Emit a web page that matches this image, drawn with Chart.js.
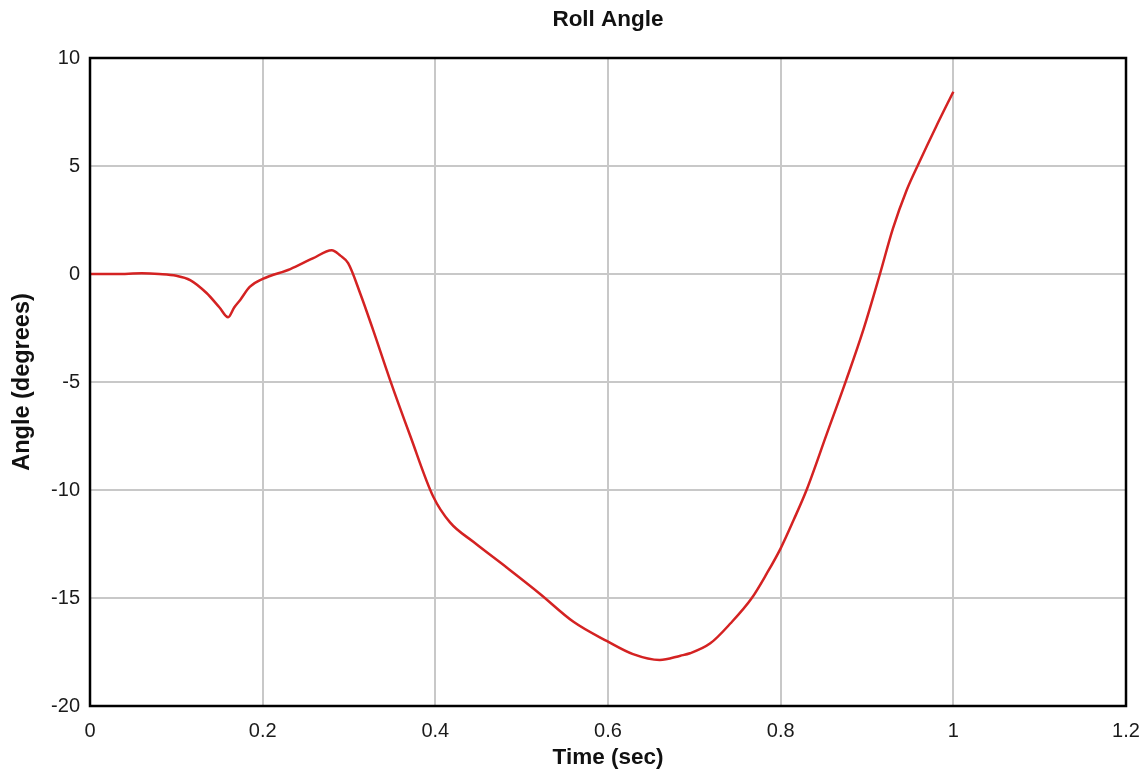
<!DOCTYPE html>
<html>
<head>
<meta charset="utf-8">
<script src="https://cdn.jsdelivr.net/npm/chart.js@4"></script>
<style>
  html, body { margin: 0; padding: 0; background: #ffffff; }
  #wrap { width: 1147px; height: 776px; }
</style>
</head>
<body>
<div id="wrap"><canvas id="c" width="1147" height="776"></canvas></div>
<script>
const chartTitle = 'Roll Angle';
const xTitle = 'Time (sec)';
const yTitle = 'Angle (degrees)';
const seriesName = 'Roll Angle';

const timeSec = [0, 0.03, 0.06, 0.08, 0.1, 0.116, 0.135, 0.15, 0.16, 0.167, 0.174, 0.185, 0.2, 0.232, 0.258, 0.28, 0.29, 0.299, 0.313, 0.328, 0.3475, 0.371, 0.3975, 0.417, 0.444, 0.483, 0.521, 0.56, 0.599, 0.629, 0.66, 0.684, 0.695, 0.7185, 0.742, 0.7666, 0.784, 0.8, 0.815, 0.83, 0.853, 0.876, 0.896, 0.915, 0.93, 0.946, 0.96, 0.98, 1.0];
const rollDeg = [0, 0, 0.03, 0, -0.08, -0.28, -0.88, -1.55, -2.0, -1.55, -1.2, -0.6, -0.23, 0.23, 0.72, 1.1, 0.85, 0.5, -0.9, -2.6, -4.9, -7.5, -10.3, -11.5, -12.4, -13.6, -14.8, -16.1, -17.0, -17.6, -17.87, -17.67, -17.56, -17.1, -16.17, -15.0, -13.86, -12.7, -11.39, -10.0, -7.45, -4.9, -2.55, 0, 2.1, 3.89, 5.13, 6.82, 8.44];

const xTickValues = [0, 0.2, 0.4, 0.6, 0.8, 1, 1.2];
const yTickValues = [-20, -15, -10, -5, 0, 5, 10];

const points = timeSec.map((t, i) => ({ x: t, y: rollDeg[i] }));

const framePlugin = {
  id: 'frame',
  afterDatasetsDraw(chart) {
    const a = chart.chartArea;
    const ctx = chart.ctx;
    ctx.save();
    ctx.strokeStyle = '#000000';
    ctx.lineWidth = 2.5;
    ctx.strokeRect(a.left, a.top, a.right - a.left, a.bottom - a.top);
    ctx.restore();
  }
};

const tickFont = { family: "'Liberation Sans', Arial, sans-serif", size: 20 };
const titleFont = { family: "'Liberation Sans', Arial, sans-serif", size: 22.5, weight: 'bold' };

new Chart(document.getElementById('c'), {
  type: 'scatter',
  data: {
    datasets: [{
      label: seriesName,
      data: points,
      showLine: true,
      borderColor: '#d42222',
      borderWidth: 2.5,
      pointRadius: 0,
      cubicInterpolationMode: 'monotone',
      fill: false
    }]
  },
  options: {
    responsive: false,
    animation: false,
    devicePixelRatio: 1,
    layout: { padding: { left: 0, right: 21, top: 0, bottom: 0 } },
    plugins: {
      legend: { display: false },
      tooltip: { enabled: false },
      title: {
        display: true,
        text: chartTitle,
        fullSize: false,
        color: '#111111',
        font: titleFont,
        padding: { top: 6.5, bottom: 24.5 }
      }
    },
    scales: {
      x: {
        type: 'linear',
        min: 0, max: 1.2,
        afterBuildTicks(scale) { scale.ticks = xTickValues.map(v => ({ value: v })); },
        afterFit(scale) { scale.height = 70; scale.paddingLeft = 0; scale.paddingRight = 0; },
        ticks: {
          color: '#1a1a1a',
          font: tickFont,
          padding: 13,
          maxRotation: 0,
          callback: (v) => String(v)
        },
        grid: { color: '#c8c8c8', lineWidth: 2, drawTicks: false },
        border: { display: false },
        title: {
          display: true,
          text: xTitle,
          color: '#111111',
          font: titleFont,
          padding: { top: 0, bottom: 4.5 }
        }
      },
      y: {
        type: 'linear',
        min: -20, max: 10,
        afterBuildTicks(scale) { scale.ticks = yTickValues.map(v => ({ value: v })); },
        afterFit(scale) { scale.width = 90; },
        ticks: {
          color: '#1a1a1a',
          font: tickFont,
          padding: 10,
          callback: (v) => String(v)
        },
        grid: { color: '#c8c8c8', lineWidth: 2, drawTicks: false },
        border: { display: false },
        title: {
          display: true,
          text: yTitle,
          color: '#111111',
          font: { family: "'Liberation Sans', Arial, sans-serif", size: 23.5, weight: 'bold' },
          padding: { top: 8, bottom: 0 }
        }
      }
    }
  },
  plugins: [framePlugin]
});
</script>
</body>
</html>
